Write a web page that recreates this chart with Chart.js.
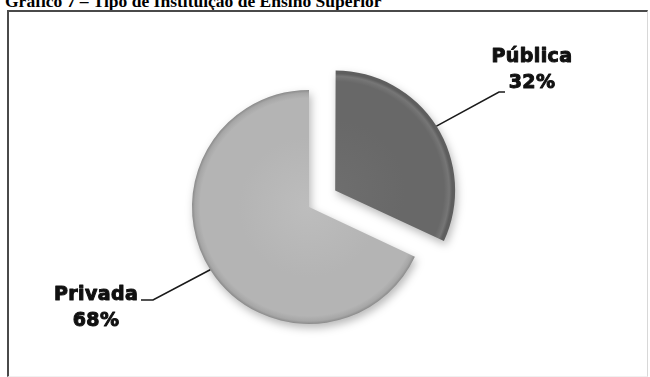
<!DOCTYPE html>
<html>
<head>
<meta charset="utf-8">
<script src="https://cdn.jsdelivr.net/npm/chart.js@4.4.1/dist/chart.umd.min.js"></script>
<style>
  html, body { margin: 0; padding: 0; background: #fff; }
  .wrap { position: relative; width: 650px; height: 377px; overflow: hidden; }
  .title {
    position: absolute; left: 5px; top: -7px; white-space: nowrap;
    font: bold 17.5px "Liberation Serif", "Times New Roman", serif; line-height: 17px; color: #000;
  }
  .frame {
    position: absolute; left: 7px; top: 10px; width: 638px; height: 364px;
    border-left: 2px solid #4a4a4a; border-top: 2px solid #4a4a4a;
    border-right: 1px solid #d8d8d8; border-bottom: 1px solid #f0f0f0;
  }
  canvas { position: absolute; left: 0; top: 0; }
</style>
</head>
<body>
<div class="wrap">
  <div class="title">Gráfico 7 – Tipo de Instituição de Ensino Superior</div>
  <div class="frame"></div>
  <canvas id="pieChart" width="650" height="377"></canvas>
</div>
<script>
const categories = ["Pública", "Privada"];
const percentages = [32, 68];

// gray bevel colours per slice: [inner, body, rim, edge]
const sliceShades = [
  ["#6e6e6e", "#686868", "#767676", "#5e5e5e"],
  ["#bdbdbd", "#b4b4b4", "#a6a6a6", "#8a8a8a"],
];

// where each callout sits: elbow of leader line, end of short tail, text block centre
const callouts = [
  { elbow: [499, 92], tail: [505, 92], text: [532, 62] },
  { elbow: [153, 300], tail: [141, 300], text: [96, 300] },
];

const ctx = document.getElementById("pieChart").getContext("2d");

// radial bevel + drop shadow before the slices are painted
const bevelShadow = {
  id: "bevelShadow",
  beforeDatasetsDraw(chart) {
    const meta = chart.getDatasetMeta(0);
    meta.data.forEach((arc, i) => {
      const s = sliceShades[i];
      const g = chart.ctx.createRadialGradient(arc.x, arc.y, 0, arc.x, arc.y, arc.outerRadius);
      g.addColorStop(0, s[0]);
      g.addColorStop(0.6, s[1]);
      g.addColorStop(0.93, s[1]);
      g.addColorStop(0.975, s[2]);
      g.addColorStop(1, s[3]);
      arc.options.backgroundColor = g;
    });
    const c = chart.ctx;
    c.save();
    c.shadowColor = "rgba(0,0,0,0.28)";
    c.shadowBlur = 8;
    c.shadowOffsetX = 2;
    c.shadowOffsetY = 4;
  },
  afterDatasetsDraw(chart) {
    chart.ctx.restore();
  },
};

// leader lines and two-line labels
const calloutLabels = {
  id: "calloutLabels",
  afterDraw(chart) {
    const c = chart.ctx;
    const meta = chart.getDatasetMeta(0);
    meta.data.forEach((arc, i) => {
      const co = callouts[i];
      const mid = (arc.startAngle + arc.endAngle) / 2;
      // arc.x/y is the pie centre; exploded slice is shifted along its mid-angle
      const shift = (arc.options.offset || 0) / 4 * (1 + (1 - Math.sin(Math.min(Math.PI, arc.circumference))));
      const cx = arc.x + Math.cos(mid) * shift;
      const cy = arc.y + Math.sin(mid) * shift;
      const sx = cx + Math.cos(mid) * arc.outerRadius;
      const sy = cy + Math.sin(mid) * arc.outerRadius;

      c.save();
      c.strokeStyle = "#1a1a1a";
      c.lineWidth = 1.6;
      c.beginPath();
      c.moveTo(sx, sy);
      c.lineTo(co.elbow[0], co.elbow[1]);
      c.lineTo(co.tail[0], co.tail[1]);
      c.stroke();

      c.fillStyle = "#111";
      c.strokeStyle = "#111";
      c.lineWidth = 1;
      c.lineJoin = "round";
      c.font = 'bold 19px "DejaVu Sans", sans-serif';
      c.letterSpacing = "0.4px";
      c.textAlign = "center";
      c.textBaseline = "alphabetic";
      const lines = [categories[i], percentages[i] + "%"];
      lines.forEach((t, k) => {
        c.fillText(t, co.text[0], co.text[1] + k * 26);
        c.strokeText(t, co.text[0], co.text[1] + k * 26);
      });
      c.restore();
    });
  },
};

new Chart(ctx, {
  type: "pie",
  data: {
    labels: categories,
    datasets: [
      {
        data: percentages,
        backgroundColor: ["#686868", "#b4b4b4"],
        borderWidth: 0,
        offset: [124, 0],
        hoverOffset: 0,
      },
    ],
  },
  options: {
    responsive: false,
    animation: false,
    radius: 117,
    layout: { padding: { left: 100, right: 132, top: 60, bottom: 23 } },
    plugins: {
      legend: { display: false },
      tooltip: { enabled: false },
    },
    events: [],
  },
  plugins: [bevelShadow, calloutLabels],
});
</script>
</body>
</html>
